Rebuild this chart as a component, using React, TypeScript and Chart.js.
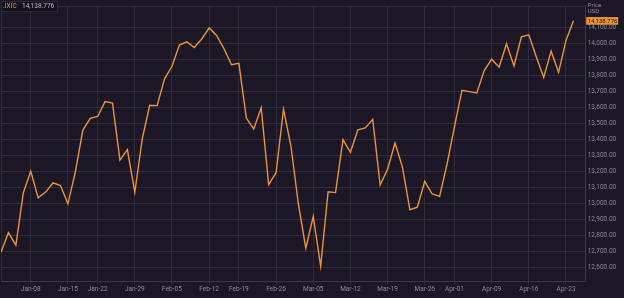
import React, { useEffect, useRef } from "react";
import { Chart, registerables } from "chart.js";

Chart.register(...registerables);

const dates: string[] = [
  "Jan-04", "Jan-05", "Jan-06", "Jan-07", "Jan-08",
  "Jan-11", "Jan-12", "Jan-13", "Jan-14", "Jan-15",
  "Jan-19", "Jan-20", "Jan-21", "Jan-22",
  "Jan-25", "Jan-26", "Jan-27", "Jan-28", "Jan-29",
  "Feb-01", "Feb-02", "Feb-03", "Feb-04", "Feb-05",
  "Feb-08", "Feb-09", "Feb-10", "Feb-11", "Feb-12",
  "Feb-16", "Feb-17", "Feb-18", "Feb-19",
  "Feb-22", "Feb-23", "Feb-24", "Feb-25", "Feb-26",
  "Mar-01", "Mar-02", "Mar-03", "Mar-04", "Mar-05",
  "Mar-08", "Mar-09", "Mar-10", "Mar-11", "Mar-12",
  "Mar-15", "Mar-16", "Mar-17", "Mar-18", "Mar-19",
  "Mar-22", "Mar-23", "Mar-24", "Mar-25", "Mar-26",
  "Mar-29", "Mar-30", "Mar-31", "Apr-01",
  "Apr-05", "Apr-06", "Apr-07", "Apr-08", "Apr-09",
  "Apr-12", "Apr-13", "Apr-14", "Apr-15", "Apr-16",
  "Apr-19", "Apr-20", "Apr-21", "Apr-22", "Apr-23",
  "Apr-26",
];

const closes: number[] = [
  12698, 12819, 12741, 13067, 13202,
  13036, 13072, 13129, 13113, 12999,
  13197, 13457, 13531, 13543,
  13636, 13626, 13271, 13337, 13071,
  13403, 13613, 13611, 13778, 13856,
  13988, 14008, 13973, 14026, 14095,
  14048, 13965, 13865, 13874,
  13533, 13465, 13598, 13119, 13192,
  13589, 13359, 12998, 12723, 12920,
  12609, 13074, 13069, 13399, 13320,
  13460, 13472, 13525, 13116, 13215,
  13378, 13228, 12962, 12978, 13139,
  13060, 13045, 13247, 13480,
  13706, 13698, 13689, 13829, 13900,
  13850, 13996, 13858, 14039, 14052,
  13915, 13786, 13950, 13818, 14017,
  14138.776,
];

const xTickLabels: string[] = [
  "Jan-08", "Jan-15", "Jan-22", "Jan-29", "Feb-05", "Feb-12", "Feb-19", "Feb-26",
  "Mar-05", "Mar-12", "Mar-19", "Mar-26", "Apr-01", "Apr-09", "Apr-16", "Apr-23",
];

const yTickValues: number[] = [
  12600, 12700, 12800, 12900, 13000, 13100, 13200, 13300,
  13400, 13500, 13600, 13700, 13800, 13900, 14000, 14100,
];

const symbol = ".IXIC";
const lastPrice = 14138.776;
const lastPriceText = "14,138.776";

const BG = "#1b1727";
const GRID = "#2f2b3d";
const TEXT = "#8b8898";
const ORANGE = "#ec9433";
const FONT = "Roboto, 'Noto Sans', sans-serif";

export default function App() {
  const ref = useRef<HTMLCanvasElement | null>(null);

  useEffect(() => {
    document.body.style.margin = "0";
    document.body.style.background = BG;
    const canvas = ref.current;
    if (!canvas) return;

    const overlay = {
      id: "overlay",
      beforeDraw(chart: any) {
        const ctx = chart.ctx;
        ctx.save();
        ctx.fillStyle = BG;
        ctx.fillRect(0, 0, chart.width, chart.height);
        ctx.restore();
      },
      beforeDatasetsDraw(chart: any) {
        const ctx = chart.ctx;
        const a = chart.chartArea;
        ctx.save();
        ctx.strokeStyle = GRID;
        ctx.lineWidth = 1;
        ctx.beginPath();
        ctx.moveTo(Math.round(a.left) + 0.5, a.bottom);
        ctx.lineTo(Math.round(a.left) + 0.5, Math.round(a.top) + 0.5);
        ctx.lineTo(a.right, Math.round(a.top) + 0.5);
        ctx.stroke();
        ctx.restore();
      },
      afterDraw(chart: any) {
        const ctx = chart.ctx;
        const a = chart.chartArea;
        const ys = chart.scales.y;
        ctx.save();
        // top-left legend box
        ctx.fillStyle = "#14111d";
        ctx.fillRect(1, 1, 57, 11);
        ctx.strokeStyle = "#2a2636";
        ctx.strokeRect(1.5, 1.5, 56, 10);
        ctx.font = `6.5px ${FONT}`;
        ctx.textBaseline = "middle";
        ctx.textAlign = "left";
        ctx.fillStyle = ORANGE;
        ctx.fillText(symbol, 3, 6.5);
        ctx.fillStyle = "#b9b6c4";
        ctx.fillText(lastPriceText, 22, 6.5);
        // axis title
        ctx.fillStyle = TEXT;
        ctx.font = `6px ${FONT}`;
        ctx.fillText("Price", a.right + 2, 5);
        ctx.fillText("USD", a.right + 2, 11);
        // last price tag
        const py = ys.getPixelForValue(lastPrice);
        ctx.fillStyle = ORANGE;
        ctx.fillRect(a.right + 0.5, py - 3.8, 32, 7.6);
        ctx.fillStyle = "#1b1727";
        ctx.font = `6px ${FONT}`;
        ctx.fillText(lastPriceText, a.right + 2, py + 0.3);
        ctx.restore();
      },
    };

    const chart = new Chart(canvas, {
      type: "line",
      data: {
        datasets: [
          {
            data: closes.map((v, i) => ({ x: i, y: v })),
            borderColor: ORANGE,
            borderWidth: 1.4,
            pointRadius: 0,
            tension: 0,
            fill: false,
          },
        ],
      },
      options: {
        animation: false,
        responsive: false,
        devicePixelRatio: 1,
        layout: { padding: { left: 1, top: 2, right: 0, bottom: 0 } },
        plugins: { legend: { display: false }, tooltip: { enabled: false } },
        scales: {
          x: {
            type: "linear",
            min: 0,
            max: 78.65,
            afterBuildTicks(scale: any) {
              scale.ticks = xTickLabels.map((l) => ({ value: dates.indexOf(l) }));
            },
            afterFit(scale: any) {
              scale.height = 16.5;
            },
            ticks: {
              autoSkip: false,
              maxRotation: 0,
              color: TEXT,
              font: { size: 6.5, family: FONT },
              padding: 1,
              callback: (v: any) => dates[Number(v)] ?? "",
            },
            grid: { color: GRID, lineWidth: 1, tickLength: 3, tickColor: GRID },
            border: { display: true, color: "#3a3648" },
          },
          y: {
            type: "linear",
            position: "right",
            min: 12515,
            max: 14232,
            afterBuildTicks(scale: any) {
              scale.ticks = yTickValues.map((v) => ({ value: v }));
            },
            afterFit(scale: any) {
              scale.width = 38.3;
            },
            ticks: {
              color: TEXT,
              font: { size: 6.5, family: FONT },
              padding: 2,
              callback: (v: any) =>
                Number(v).toLocaleString("en-US", { minimumFractionDigits: 2, maximumFractionDigits: 2 }),
            },
            grid: { color: GRID, lineWidth: 1, drawTicks: false },
            border: { display: true, color: "#3a3648" },
          },
        },
      },
      plugins: [overlay],
    });

    return () => chart.destroy();
  }, []);

  return (
    <div style={{ width: 624, height: 298 }}>
      <canvas ref={ref} width={624} height={298} style={{ display: "block" }} />
    </div>
  );
}
